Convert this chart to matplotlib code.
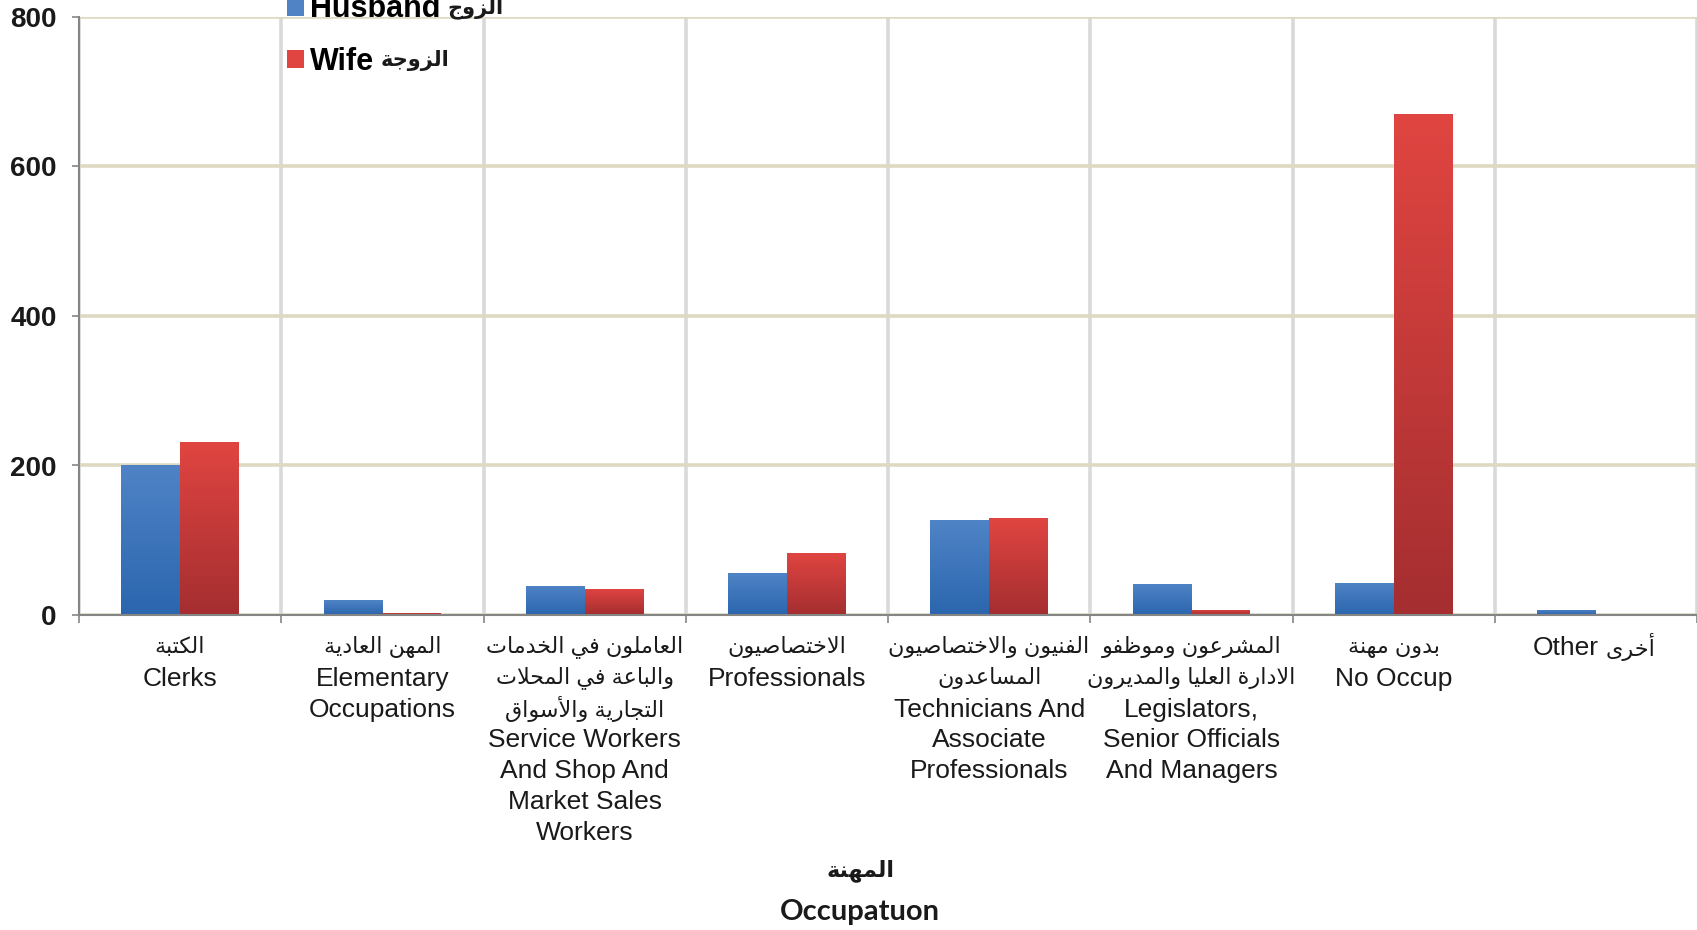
import unicodedata
import numpy as np
import matplotlib
matplotlib.use("Agg")
import matplotlib.pyplot as plt
from matplotlib.patches import Patch

# --- data -------------------------------------------------------------
labels_ar = [
    ["الكتبة"],
    ["المهن العادية"],
    ["العاملون في الخدمات", "والباعة في المحلات", "التجارية والأسواق"],
    ["الاختصاصيون"],
    ["الفنيون والاختصاصيون", "المساعدون"],
    ["المشرعون وموظفو", "الادارة العليا والمديرون"],
    ["بدون مهنة"],
    [],
]
labels_en = [
    ["Clerks"],
    ["Elementary", "Occupations"],
    ["Service Workers", "And Shop And", "Market Sales", "Workers"],
    ["Professionals"],
    ["Technicians And", "Associate", "Professionals"],
    ["Legislators,", "Senior Officials", "And Managers"],
    ["No Occup"],
    [("Other", "أخرى")],
]
husband = [201, 20, 39, 56, 127, 42, 43, 7]
wife = [232, 3, 35, 83, 130, 7, 670, 1]
yticks = [0, 200, 400, 600, 800]
legend_en = ["Husband", "Wife"]
legend_ar = ["الزوج", "الزوجة"]
xtitle_ar = "المهنة"
xtitle_en = "Occupatuon"


# --- tiny arabic shaper (matplotlib does no shaping / bidi) -------------
def _forms(ch):
    try:
        name = unicodedata.name(ch)
    except ValueError:
        return None
    if not name.startswith("ARABIC LETTER"):
        return None
    f = {}
    for k in ("ISOLATED", "FINAL", "INITIAL", "MEDIAL"):
        try:
            f[k] = unicodedata.lookup(name + " " + k + " FORM")
        except KeyError:
            pass
    return f


def _is_alef(ch):
    try:
        return unicodedata.name(ch).startswith("ARABIC LETTER ALEF")
    except ValueError:
        return False


def rtl(text):
    units = []
    i = 0
    while i < len(text):
        c = text[i]
        if c == "ل" and i + 1 < len(text) and _is_alef(text[i + 1]):
            units.append(("LIG", text[i + 1]))
            i += 2
        else:
            units.append(("CH", c))
            i += 1

    def joins_next(u):
        if u[0] == "LIG":
            return False
        f = _forms(u[1])
        return bool(f) and "INITIAL" in f

    def joins_prev(u):
        if u[0] == "LIG":
            return True
        f = _forms(u[1])
        return bool(f) and "FINAL" in f

    out = []
    for k, u in enumerate(units):
        prev = k > 0 and joins_next(units[k - 1]) and joins_prev(u)
        nxt = k < len(units) - 1 and joins_next(u) and joins_prev(units[k + 1])
        if u[0] == "LIG":
            rest = unicodedata.name(u[1])[len("ARABIC LETTER "):]
            form = "FINAL" if prev else "ISOLATED"
            out.append(unicodedata.lookup("ARABIC LIGATURE LAM WITH " + rest + " " + form + " FORM"))
            continue
        f = _forms(u[1])
        if not f:
            out.append(u[1])
            continue
        if prev and nxt:
            form = "MEDIAL"
        elif prev:
            form = "FINAL"
        elif nxt:
            form = "INITIAL"
        else:
            form = "ISOLATED"
        out.append(f.get(form, f.get("ISOLATED", u[1])))
    return "".join(out)[::-1]


# --- figure -----------------------------------------------------------
plt.rcParams["font.family"] = ["Liberation Sans", "DejaVu Sans"]

W, H = 1697, 930
fig = plt.figure(figsize=(W / 100, H / 100), dpi=100)
ax = fig.add_axes([79 / W, 1 - 615 / H, 1 - 79 / W, (615 - 17) / H])

n = len(husband)
x = np.arange(n)
w = 0.29

blue_top, blue_bot = np.array([0x4f, 0x83, 0xc6]) / 255, np.array([0x2b, 0x66, 0xae]) / 255
red_top, red_bot = np.array([0xe0, 0x45, 0x41]) / 255, np.array([0xa5, 0x2e, 0x30]) / 255


def gradient_bars(bars, top, bot):
    t = np.linspace(0, 1, 64)[:, None]
    img = (bot[None, :] * (1 - t) + top[None, :] * t)[:, None, :]
    for b in bars:
        x0, y0 = b.get_x(), b.get_y()
        x1, y1 = x0 + b.get_width(), y0 + b.get_height()
        if y1 <= y0:
            continue
        im = ax.imshow(img, extent=(x0, x1, y0, y1), origin="lower",
                       aspect="auto", zorder=2, interpolation="bilinear")
        im.set_clip_path(b)
        b.set_facecolor("none")


hb = ax.bar(x - w / 2, husband, w, color=blue_top, linewidth=0, zorder=2)
wb = ax.bar(x + w / 2, wife, w, color=red_top, linewidth=0, zorder=2)
gradient_bars(hb, blue_top, blue_bot)
gradient_bars(wb, red_top, red_bot)

ax.set_xlim(-0.5, n - 0.5)
ax.set_ylim(0, 800)
ax.set_yticks(yticks)
ax.set_yticklabels([str(v) for v in yticks], fontsize=20, fontweight="bold", color="#1a1a1a")
ax.set_xticks(np.arange(n + 1) - 0.5)
ax.set_xticklabels([])

ax.set_axisbelow(True)
ax.yaxis.grid(True, color="#ddd9c3", linewidth=2.6)
ax.xaxis.grid(True, color="#d9d9d9", linewidth=2.6)

for side in ("top", "right"):
    ax.spines[side].set_visible(False)
for side in ("left", "bottom"):
    ax.spines[side].set_color("#858585")
    ax.spines[side].set_linewidth(1.5)
    ax.spines[side].set_zorder(3)
ax.tick_params(axis="y", length=5, width=1.2, color="#858585", pad=11)
ax.tick_params(axis="x", length=6, width=1.2, color="#858585")

# category labels, one text per line (arabic lines first, then english)
line_step = 30.8
first = -32
for i in range(n):
    k = 0
    for line in labels_ar[i]:
        ax.annotate(rtl(line), xy=(x[i], 0), xycoords=("data", "axes fraction"),
                    xytext=(0, first - k * line_step), textcoords="offset pixels",
                    ha="center", va="center", fontsize=16, color="#1a1a1a")
        k += 1
    for line in labels_en[i]:
        yoff = first - k * line_step - 1
        if isinstance(line, tuple):
            ax.annotate(line[0], xy=(x[i], 0), xycoords=("data", "axes fraction"),
                        xytext=(3, yoff), textcoords="offset pixels",
                        ha="right", va="center", fontsize=19, color="#1a1a1a")
            ax.annotate(rtl(line[1]), xy=(x[i], 0), xycoords=("data", "axes fraction"),
                        xytext=(10, yoff + 1), textcoords="offset pixels",
                        ha="left", va="center", fontsize=16, color="#1a1a1a")
        else:
            ax.annotate(line, xy=(x[i], 0), xycoords=("data", "axes fraction"),
                        xytext=(0, yoff), textcoords="offset pixels",
                        ha="center", va="center", fontsize=19, color="#1a1a1a")
        k += 1

# axis title
fig.text(860 / W, 1 - 871 / H, rtl(xtitle_ar), ha="center", va="center",
         fontsize=16, fontweight="bold", family=["DejaVu Sans"], color="#1a1a1a")
fig.text(860 / W, 1 - 912 / H, xtitle_en, ha="center", va="center",
         fontsize=21, fontweight="bold", family=["Lato", "DejaVu Sans"], color="#1a1a1a")

# legend (english part by legend, arabic part appended after each entry)
handles = [Patch(facecolor=blue_top, edgecolor="none"), Patch(facecolor=red_top, edgecolor="none")]
leg = fig.legend(handles, legend_en, loc="upper left", bbox_to_anchor=(287 / W, 1 + 6 / H),
                 frameon=False, prop={"size": 22, "weight": "bold"},
                 handlelength=0.56, handleheight=0.56, handletextpad=0.18,
                 labelspacing=0.74, borderpad=0, borderaxespad=0)
fig.canvas.draw()
r = fig.canvas.get_renderer()
for t, ar in zip(leg.get_texts(), legend_ar):
    bb = t.get_window_extent(r)
    fig.text((bb.x1 + 7) / W, (bb.y0 + bb.y1) / 2 / H + 1 / H, rtl(ar), ha="left", va="center",
             fontsize=15, fontweight="bold", family=["DejaVu Sans"], color="#1a1a1a")

plt.savefig("out.png", dpi=100)
